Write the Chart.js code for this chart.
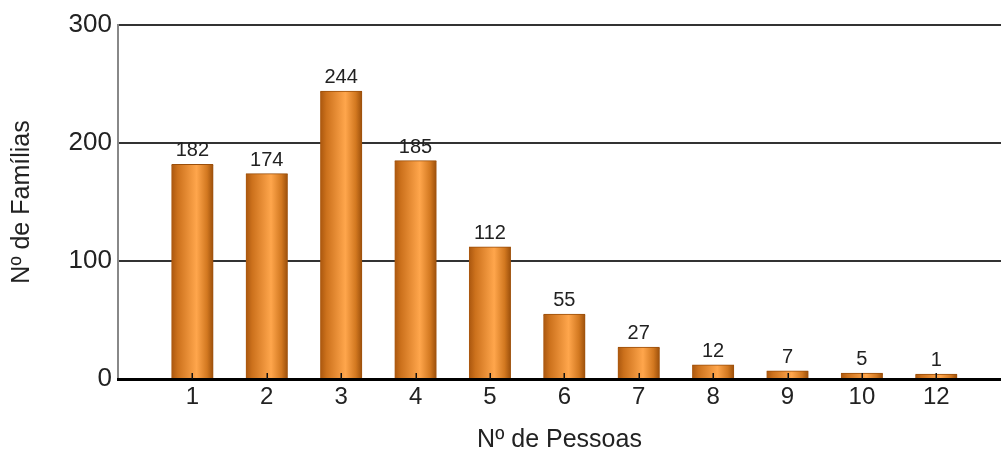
<!DOCTYPE html>
<html>
<head>
<meta charset="utf-8">
<script src="https://cdn.jsdelivr.net/npm/chart.js@4"></script>
<style>
  body { margin: 0; background: #fff; }
  #wrap { width: 1001px; height: 455px; }
</style>
</head>
<body>
<div id="wrap"><canvas id="pessoasChart" width="1001" height="455"></canvas></div>
<script>
// Nº de pessoas por família
const categories = ["1", "2", "3", "4", "5", "6", "7", "8", "9", "10", "12"];
const familias = [182, 174, 244, 185, 112, 55, 27, 12, 7, 5, 1];
const yTicks = [0, 100, 200, 300];

const font = "'Liberation Sans', Arial, sans-serif";
const halfBar = 21;

// cylinder look: dark edges, light stripe right of centre
function barFill(ctx) {
    const chart = ctx.chart;
    if (!chart.chartArea || !ctx.raw) return "#e08a30";
    const cx = chart.scales.x.getPixelForValue(ctx.raw.x);
    const g = chart.ctx.createLinearGradient(cx - halfBar, 0, cx + halfBar, 0);
    g.addColorStop(0, "#a9560e");
    g.addColorStop(0.15, "#cc711c");
    g.addColorStop(0.6, "#ffa64c");
    g.addColorStop(0.85, "#d27820");
    g.addColorStop(1, "#9a4e0a");
    return g;
}

// zero line, small ticks and the value over each bar
const overlay = {
    id: "overlay",
    afterDatasetsDraw(chart) {
        const c = chart.ctx;
        const area = chart.chartArea;
        const y0 = chart.scales.y.getPixelForValue(0);
        c.save();
        c.strokeStyle = "#000";
        c.lineWidth = 3;
        c.beginPath();
        c.moveTo(area.left - 1, y0 + 0.5);
        c.lineTo(area.right, y0 + 0.5);
        c.stroke();

        c.lineWidth = 1.5;
        c.strokeStyle = "#111";
        chart.scales.x.ticks.forEach(t => {
            const x = Math.round(chart.scales.x.getPixelForValue(t.value)) + 0.25;
            c.beginPath();
            c.moveTo(x, y0 - 6);
            c.lineTo(x, y0);
            c.stroke();
        });

        c.fillStyle = "#222";
        c.font = "20px " + font;
        c.textAlign = "center";
        c.textBaseline = "alphabetic";
        chart.getDatasetMeta(0).data.forEach((bar, i) => {
            c.fillText(String(familias[i]), bar.x, bar.y - 8);
        });
        c.restore();
    }
};

new Chart(document.getElementById("pessoasChart"), {
    type: "bar",
    data: {
        datasets: [
            {
                label: "Nº de Famílias",
                data: familias.map((v, i) => ({ x: i + 1, y: v })),
                backgroundColor: barFill,
                borderColor: "#9a4e0a",
                borderWidth: { top: 1, left: 0, right: 0, bottom: 0 },
                borderSkipped: "bottom",
                barThickness: halfBar * 2,
                minBarLength: 5,
            },
        ],
    },
    options: {
        responsive: false,
        animation: false,
        layout: { padding: { top: 25, right: 0, bottom: 0, left: 0 } },
        plugins: {
            legend: { display: false },
            tooltip: { enabled: false },
        },
        scales: {
            x: {
                type: "linear",
                offset: false,
                min: 0,
                max: 11.87,
                afterBuildTicks: (scale) => {
                    scale.ticks = categories.map((c, i) => ({ value: i + 1 }));
                },
                afterFit: (scale) => {
                    scale.height = 76;
                },
                grid: { display: false, drawTicks: false, offset: false },
                border: { display: false },
                ticks: {
                    autoSkip: false,
                    maxRotation: 0,
                    padding: 4,
                    color: "#222",
                    font: { family: font, size: 24 },
                    callback: (v) => categories[v - 1],
                },
                title: {
                    display: true,
                    text: "Nº de Pessoas",
                    color: "#222",
                    font: { family: font, size: 25 },
                    padding: 0,
                },
            },
            y: {
                min: 0,
                max: 300,
                afterBuildTicks: (scale) => {
                    scale.ticks = yTicks.map(v => ({ value: v }));
                },
                afterFit: (scale) => {
                    scale.width = 118;
                },
                grid: {
                    drawTicks: false,
                    color: (ctx) => (ctx.tick && ctx.tick.value === 0 ? "rgba(0,0,0,0)" : "#333"),
                    lineWidth: 2,
                },
                border: { color: "#888", width: 2 },
                ticks: {
                    padding: 6,
                    color: "#222",
                    font: { family: font, size: 26 },
                },
                title: {
                    display: true,
                    text: "Nº de Famílias",
                    color: "#222",
                    font: { family: font, size: 25 },
                    padding: { top: 7, bottom: 0 },
                },
            },
        },
    },
    plugins: [overlay],
});
</script>
</body>
</html>
